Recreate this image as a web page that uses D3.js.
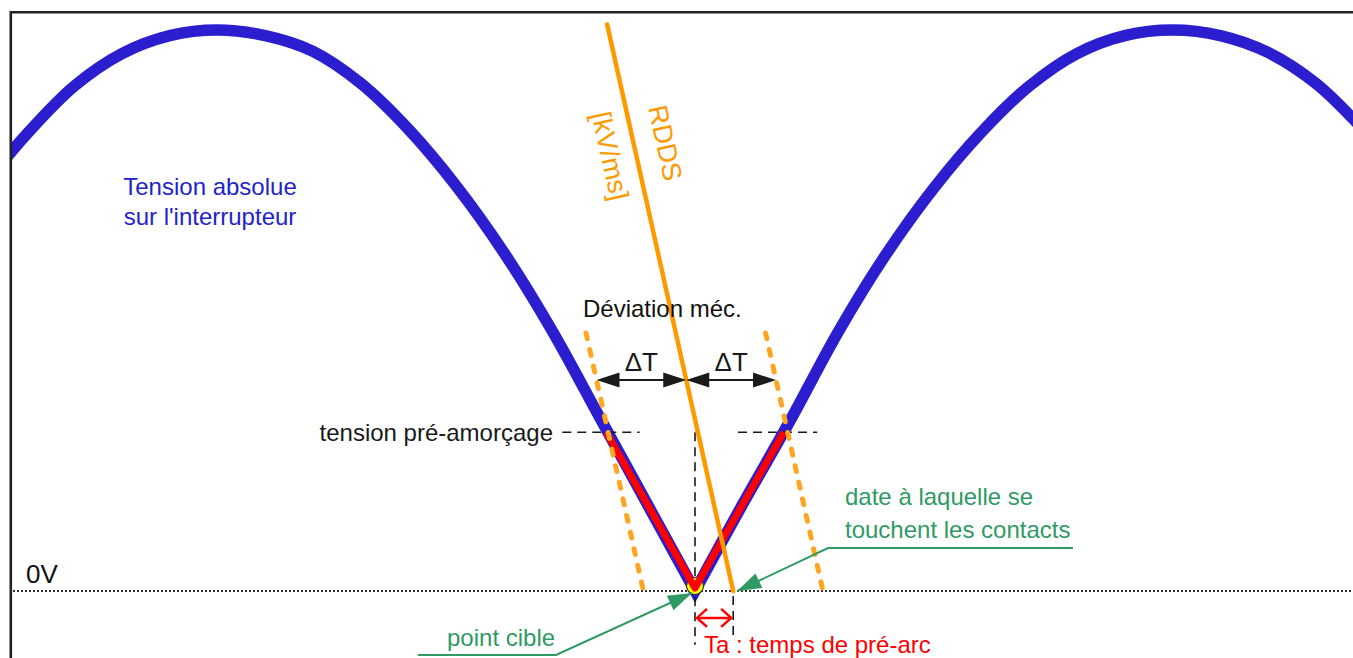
<!DOCTYPE html>
<html>
<head>
<meta charset="utf-8">
<script src="https://cdn.jsdelivr.net/npm/d3@7"></script>
<style>
  html, body { margin: 0; padding: 0; background: #fff; overflow: hidden; }
  svg { display: block; }
  text { font-family: "Liberation Sans", Arial, sans-serif; }
</style>
</head>
<body>
<svg id="chart" width="1353" height="658"></svg>
<script>
// Absolute voltage across the switch: time (ms) and voltage (per-unit of peak)
const traceTime = [2.5, 3.0, 3.5, 4.0, 4.5, 5.0, 5.5, 6.0, 6.5, 7.0, 7.5, 8.0, 8.5, 9.0, 9.5, 10.0,
                   10.5, 11.0, 11.5, 12.0, 12.5, 13.0, 13.5, 14.0, 14.5, 15.0, 15.5, 16.0, 16.5, 17.0];
const traceVolt = [0.712, 0.814, 0.9, 0.958, 0.99, 1.0, 0.99, 0.962, 0.905, 0.823, 0.722, 0.603, 0.465, 0.31, 0.155, 0.0,
                   0.155, 0.305, 0.462, 0.6, 0.718, 0.818, 0.9, 0.958, 0.99, 1.0, 0.99, 0.96, 0.905, 0.822];

// Closing event
const targetTime = 10.0;          // point cible (voltage zero)
const contactTime = 10.40;        // contacts touch
const rddsTopTime = 9.08;         // RDDS line, upper end
const rddsTopVolt = 1.01;
const deltaT = 0.94;              // mechanical scatter, +/- (ms)
const scatterTopVolt = 0.46;      // upper end of the scatter lines
const deltaArrowVolt = 0.376;
const prestrikeVolt = 0.283;      // pre-strike voltage level
const prestrikeTimes = [9.07, 10.93];
const prestrikeGuideLeft = [8.61, 9.42];
const prestrikeGuideRight = [10.45, 11.28];
const targetGuideBottom = -0.096;
const contactGuide = [-0.009, -0.087];
const taArrowVolt = -0.048;

// Text
const traceLabel = ["Tension absolue", "sur l'interrupteur"];
const rddsLabel = ["RDDS", "[kV/ms]"];
const deviationLabel = "Déviation méc.";
const deltaLabel = "\u0394T";
const prestrikeLabel = "tension pré-amorçage";
const contactLabel = ["date à laquelle se", "touchent les contacts"];
const targetLabel = "point cible";
const taLabel = "Ta : temps de pré-arc";
const zeroLabel = "0V";

const W = 1353, H = 658;
const svg = d3.select("#chart");

const x = d3.scaleLinear().domain([10, 15]).range([695, 1172.5]);
const y = d3.scaleLinear().domain([0, 1]).range([591, 30]);

const blue = "#2a1ecf", orange = "#ff9900", green = "#2f9a63", red = "#ff0000", ink = "#1a1a1a";

// RDDS line: time as a function of voltage
const rddsT = v => contactTime + (rddsTopTime - contactTime) * v / rddsTopVolt;

svg.append("defs").append("clipPath").attr("id", "plot")
  .append("rect").attr("x", 12).attr("y", 13).attr("width", W - 12).attr("height", H - 13);

const g = svg.append("g").attr("clip-path", "url(#plot)");

// 0 V reference
g.append("line")
  .attr("x1", 13).attr("x2", W).attr("y1", y(0)).attr("y2", y(0))
  .attr("stroke", "#333").attr("stroke-width", 1.8).attr("stroke-dasharray", "2,2");

// Voltage trace: two arches joined at the zero
const pts = traceTime.map((t, i) => [t, traceVolt[i]]);
const iz = traceTime.indexOf(targetTime);
const line = d3.line().x(d => x(d[0])).y(d => y(d[1])).curve(d3.curveCatmullRom.alpha(0.5));
const dLeft = line(pts.slice(0, iz + 1));
const dRight = line(pts.slice(iz)).replace(/^M/, "L");
g.append("path")
  .attr("d", dLeft + dRight)
  .attr("fill", "none").attr("stroke", blue).attr("stroke-width", 11.5)
  .attr("stroke-linejoin", "miter");

// Pre-strike level guides
[prestrikeGuideLeft, prestrikeGuideRight].forEach(r => {
  g.append("line")
    .attr("x1", x(r[0])).attr("x2", x(r[1])).attr("y1", y(prestrikeVolt)).attr("y2", y(prestrikeVolt))
    .attr("stroke", ink).attr("stroke-width", 1.6).attr("stroke-dasharray", "9,6");
});
// Vertical guides at target and contact instants
g.append("line")
  .attr("x1", x(targetTime)).attr("x2", x(targetTime))
  .attr("y1", y(prestrikeVolt)).attr("y2", y(targetGuideBottom))
  .attr("stroke", ink).attr("stroke-width", 1.6).attr("stroke-dasharray", "9,6");
g.append("line")
  .attr("x1", x(contactTime)).attr("x2", x(contactTime))
  .attr("y1", y(contactGuide[0])).attr("y2", y(contactGuide[1]))
  .attr("stroke", ink).attr("stroke-width", 1.6).attr("stroke-dasharray", "9,6");

// Target point marker
g.append("circle")
  .attr("cx", x(targetTime)).attr("cy", y(0) - 5).attr("r", 8.5)
  .attr("fill", "#ffff00").attr("stroke", "#333").attr("stroke-width", 1.2);

// Pre-arc V
g.append("path")
  .attr("d", d3.line()([[x(prestrikeTimes[0]), y(prestrikeVolt)], [x(targetTime), y(0) - 3], [x(prestrikeTimes[1]), y(prestrikeVolt)]]))
  .attr("fill", "none").attr("stroke", red).attr("stroke-width", 7).attr("stroke-linejoin", "round");

// Mechanical scatter lines (RDDS shifted by +/- deltaT)
[-deltaT, deltaT].forEach(s => {
  g.append("line")
    .attr("x1", x(rddsT(scatterTopVolt) + s)).attr("y1", y(scatterTopVolt))
    .attr("x2", x(rddsT(0) + s)).attr("y2", y(0))
    .attr("stroke", "#ffa522").attr("stroke-width", 5)
    .attr("stroke-dasharray", "6,11").attr("stroke-linecap", "round");
});

// RDDS line
g.append("line")
  .attr("x1", x(rddsT(rddsTopVolt))).attr("y1", y(rddsTopVolt))
  .attr("x2", x(rddsT(0))).attr("y2", y(0))
  .attr("stroke", orange).attr("stroke-width", 4.5).attr("stroke-linecap", "round");

// Filled arrowhead helper
function head(x1, y1, x2, y2, len, half, color) {
  const a = Math.atan2(y2 - y1, x2 - x1);
  const bx = x2 - len * Math.cos(a), by = y2 - len * Math.sin(a);
  const px = -Math.sin(a) * half, py = Math.cos(a) * half;
  g.append("path")
    .attr("d", `M${x2},${y2}L${bx + px},${by + py}L${bx - px},${by - py}Z`)
    .attr("fill", color);
}

// Delta T arrows
const ya = y(deltaArrowVolt);
const xm = x(rddsT(deltaArrowVolt));
const xl = x(rddsT(deltaArrowVolt) - deltaT), xr = x(rddsT(deltaArrowVolt) + deltaT);
[[xl, xm], [xm, xr]].forEach(([a, b]) => {
  g.append("line").attr("x1", a + 10).attr("x2", b - 10).attr("y1", ya).attr("y2", ya)
    .attr("stroke", ink).attr("stroke-width", 2);
  head(b, ya, a, ya, 23, 7.5, ink);
  head(a, ya, b, ya, 23, 7.5, ink);
});

// Ta arrow
const yt = y(taArrowVolt);
const xa = x(targetTime) + 2, xb = x(contactTime) - 2;
g.append("line").attr("x1", xa).attr("x2", xb).attr("y1", yt).attr("y2", yt)
  .attr("stroke", red).attr("stroke-width", 2.5);
g.append("path").attr("d", `M${xa + 10},${yt - 9}L${xa},${yt}L${xa + 10},${yt + 9}`)
  .attr("fill", "none").attr("stroke", red).attr("stroke-width", 2.5);
g.append("path").attr("d", `M${xb - 10},${yt - 9}L${xb},${yt}L${xb - 10},${yt + 9}`)
  .attr("fill", "none").attr("stroke", red).attr("stroke-width", 2.5);

// Green leaders
function leader(pts, color) {
  g.append("path").attr("d", d3.line()(pts)).attr("fill", "none")
    .attr("stroke", color).attr("stroke-width", 2);
  const n = pts.length;
  head(pts[n - 2][0], pts[n - 2][1], pts[n - 1][0], pts[n - 1][1], 24, 8, color);
}
leader([[418, 655], [556, 655], [x(targetTime) - 3, y(0) + 2]], green);
leader([[1073, 548], [828, 548], [x(contactTime) + 4, y(0)]], green);

// Text
const txt = (s, tx, ty, opts = {}) => g.append("text")
  .attr("x", tx).attr("y", ty).text(s)
  .attr("font-size", opts.size || 24)
  .attr("fill", opts.color || ink)
  .attr("text-anchor", opts.anchor || "start");

txt(traceLabel[0], 210, 195, { color: "#2323cc", anchor: "middle" });
txt(traceLabel[1], 210, 225, { color: "#2323cc", anchor: "middle" });
txt(zeroLabel, 26, 583, { size: 26, color: "#111" });
txt(deviationLabel, 583, 317, { color: "#111" });
txt(deltaLabel, (xl + xm) / 2, 371, { size: 26, anchor: "middle" });
txt(deltaLabel, (xm + xr) / 2, 371, { size: 26, anchor: "middle" });
txt(prestrikeLabel, 553, 441, { anchor: "end" });
txt(contactLabel[0], 845, 505, { color: green });
txt(contactLabel[1], 845, 538, { color: green });
txt(targetLabel, 447, 646, { color: green });
txt(taLabel, 704, 653, { color: red });

// Rotated RDDS labels, parallel to the RDDS line
const ang = Math.atan2(y(0) - y(rddsTopVolt), x(rddsT(0)) - x(rddsT(rddsTopVolt))) * 180 / Math.PI;
[[rddsLabel[0], 665, 143], [rddsLabel[1], 610, 156]].forEach(([s, cx, cy]) => {
  g.append("text").text(s)
    .attr("transform", `translate(${cx},${cy}) rotate(${ang})`)
    .attr("text-anchor", "middle").attr("dominant-baseline", "central")
    .attr("font-size", 27).attr("fill", orange);
});

// Frame
svg.append("path")
  .attr("d", `M10.8,${H}V12.3H${W}`)
  .attr("fill", "none").attr("stroke", "#222").attr("stroke-width", 2.6);
</script>
</body>
</html>
